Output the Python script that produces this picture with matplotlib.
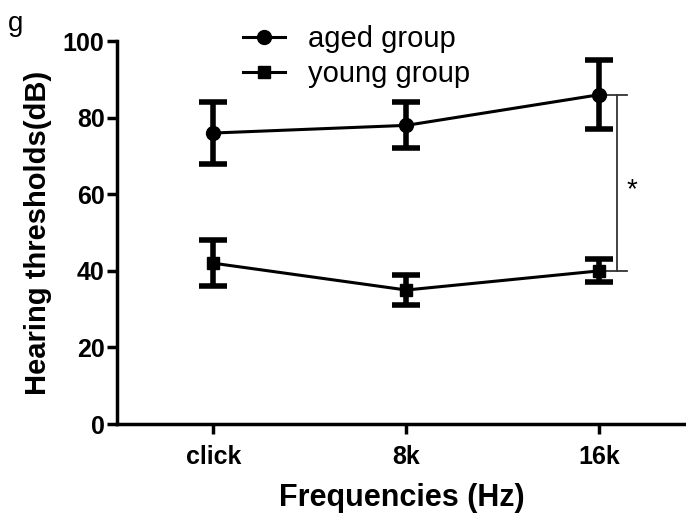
import numpy as np
import matplotlib
matplotlib.use("Agg")
import matplotlib.pyplot as plt
from matplotlib.lines import Line2D

plt.rcParams['font.family'] = ['Liberation Sans', 'DejaVu Sans']

freqs = ["click", "8k", "16k"]
aged_mean = [76, 78, 86]
aged_err = [8, 6, 9]
young_mean = [42, 35, 40]
young_err = [6, 4, 3]

x = np.arange(len(freqs))

fig = plt.figure(figsize=(6.86, 5.14), dpi=100)
ax = fig.add_axes([0.1706, 0.175, 0.8294, 0.745])

ax.errorbar(x, aged_mean, yerr=aged_err, color="black", marker="o", markersize=10,
            linewidth=2.2, elinewidth=4, capsize=10, capthick=4)
ax.errorbar(x, young_mean, yerr=young_err, color="black", marker="s", markersize=9,
            linewidth=2.2, elinewidth=4, capsize=10, capthick=4)

# significance bracket
bx = 2.09
ax.plot([bx, bx], [young_mean[2], aged_mean[2]], color="#333333", linewidth=1.3)
ax.plot([2.03, 2.145], [aged_mean[2], aged_mean[2]], color="#333333", linewidth=1.3)
ax.plot([2.03, 2.145], [young_mean[2], young_mean[2]], color="#333333", linewidth=1.3)
ax.text(2.17, 61, "*", fontsize=20, ha="center", va="center")

ax.set_xlim(-0.5, 2.45)
ax.set_ylim(0, 100)
ax.set_yticks([0, 20, 40, 60, 80, 100])
ax.set_xticks(x)
ax.set_xticklabels(freqs)
for s in ["top", "right"]:
    ax.spines[s].set_visible(False)
for s in ["left", "bottom"]:
    ax.spines[s].set_linewidth(2.5)
ax.tick_params(width=2.5, length=7, labelsize=18, pad=2)
for lab in ax.get_xticklabels() + ax.get_yticklabels():
    lab.set_fontweight("bold")
ax.tick_params(axis="x", pad=8)

ax.set_xlabel("Frequencies (Hz)", fontsize=22, fontweight="bold", labelpad=10)
ax.set_ylabel("Hearing thresholds(dB)", fontsize=21, fontweight="bold", labelpad=8)

handles = [Line2D([], [], color="black", marker="o", markersize=10, linewidth=2.2),
           Line2D([], [], color="black", marker="s", markersize=9, linewidth=2.2)]
ax.legend(handles, ["aged group", "young group"], loc="upper left",
          bbox_to_anchor=(0.221, 1.042), frameon=False, fontsize=21,
          handlelength=1.45, handletextpad=0.8, labelspacing=0.25,
          borderpad=0, borderaxespad=0)

fig.text(0.012, 0.94, "g", fontsize=20)

plt.savefig("out.png", dpi=100)
